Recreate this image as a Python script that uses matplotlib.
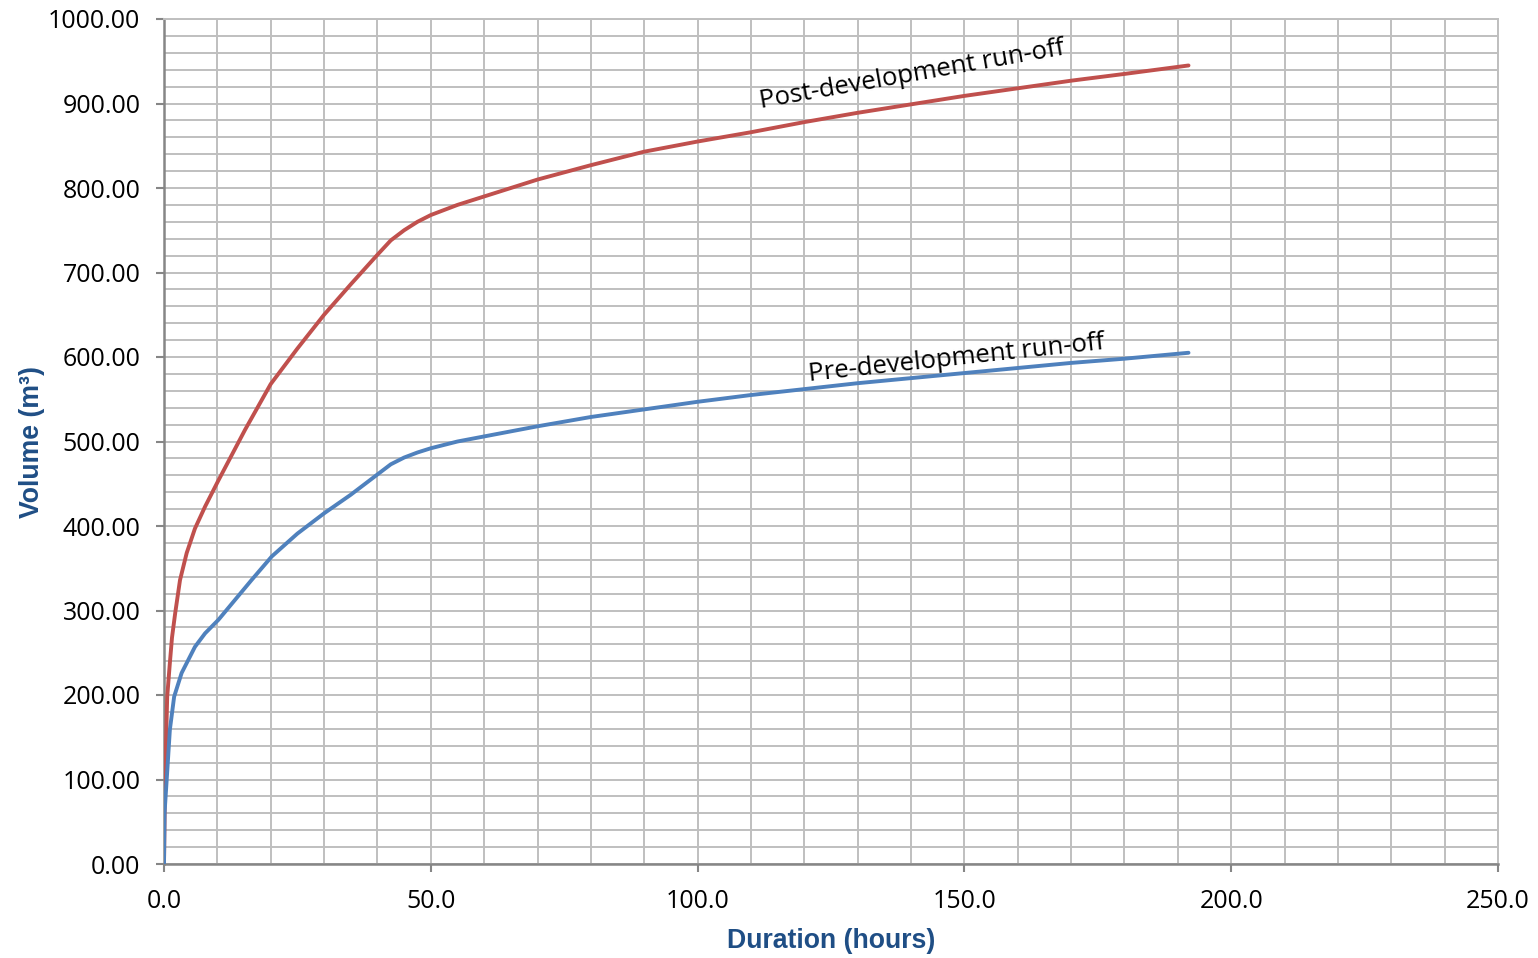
import numpy as np
import matplotlib.pyplot as plt
from matplotlib.ticker import MultipleLocator, FormatStrFormatter

# Datos
dur_post = [0, 0.2, 0.6, 1.1, 1.5, 2.1, 3.0, 4.25, 5.8, 7.7, 10.2, 15.2, 20, 25, 30, 35,
            40, 42.5, 45, 47.5, 50, 55, 60, 70, 80, 90, 100, 110, 120, 130, 140, 150,
            160, 170, 180, 192]
vol_post = [0, 100, 198, 238, 268, 297, 336, 368, 397, 423, 454, 514, 568, 610, 650, 686,
            721, 738, 750, 760, 768, 780, 790, 810, 827, 843, 855, 866, 878, 889, 899, 909,
            918, 927, 935, 945]

dur_pre = [0, 0.1, 0.7, 1.1, 1.9, 3.3, 5.8, 7.7, 10.2, 16.4, 20.2, 25, 30, 35, 40, 42.5,
           45, 47.5, 50, 55, 60, 70, 80, 90, 100, 110, 120, 130, 140, 150, 160, 170, 180, 192]
vol_pre = [0, 60, 119, 159, 198, 226, 257, 273, 289, 336, 364, 391, 415, 437, 461, 473,
           481, 487, 492, 500, 506, 518, 529, 538, 547, 555, 562, 569, 575, 581, 587, 593,
           598, 605]

etiqueta_post = 'Post-development run-off'
etiqueta_pre = 'Pre-development run-off'

grid_col = '#BFBFBF'
axis_col = '#868686'
title_col = '#1F4E85'

plt.rcParams.update({'font.family': ['Open Sans', 'DejaVu Sans']})

fig = plt.figure(figsize=(15.38, 9.58), dpi=100)
ax = fig.add_axes([164/1538, 1-864/958, (1498-164)/1538, (864-19)/958])

ax.plot(dur_post, vol_post, color='#C0504D', lw=2.8, solid_capstyle='round',
        solid_joinstyle='round', zorder=3)
ax.plot(dur_pre, vol_pre, color='#4F81BD', lw=2.8, solid_capstyle='round',
        solid_joinstyle='round', zorder=3)

ax.set_xlim(0, 250)
ax.set_ylim(0, 1000)

ax.xaxis.set_major_locator(MultipleLocator(50))
ax.xaxis.set_minor_locator(MultipleLocator(10))
ax.yaxis.set_major_locator(MultipleLocator(100))
ax.yaxis.set_minor_locator(MultipleLocator(20))
ax.xaxis.set_major_formatter(FormatStrFormatter('%.1f'))
ax.yaxis.set_major_formatter(FormatStrFormatter('%.2f'))

ax.grid(which='both', color=grid_col, lw=1.4)
ax.set_axisbelow(True)

ax.tick_params(which='major', length=6, width=1.5, color=axis_col, labelsize=18)
ax.tick_params(axis='y', pad=11)
ax.tick_params(axis='x', pad=12)
ax.tick_params(which='minor', length=0)

for s in ['left', 'bottom']:
    ax.spines[s].set_color(axis_col)
    ax.spines[s].set_linewidth(1.8)
for s in ['top', 'right']:
    ax.spines[s].set_color(grid_col)
    ax.spines[s].set_linewidth(1.4)

ax.set_xlabel('Duration (hours)', family='Liberation Sans', fontweight='bold',
              fontsize=19.2, color=title_col, labelpad=10)
ax.set_ylabel('Volume (m³)', family='Liberation Sans', fontweight='bold',
              fontsize=19.2, color=title_col, labelpad=2)

ax.text(111.8, 894, etiqueta_post, rotation=10, rotation_mode='anchor',
        ha='left', va='baseline', fontsize=18.5, zorder=4)
ax.text(120.9, 571, etiqueta_pre, rotation=6.2, rotation_mode='anchor',
        ha='left', va='baseline', fontsize=18.5, zorder=4)

fig.savefig('out.png', dpi=100)
